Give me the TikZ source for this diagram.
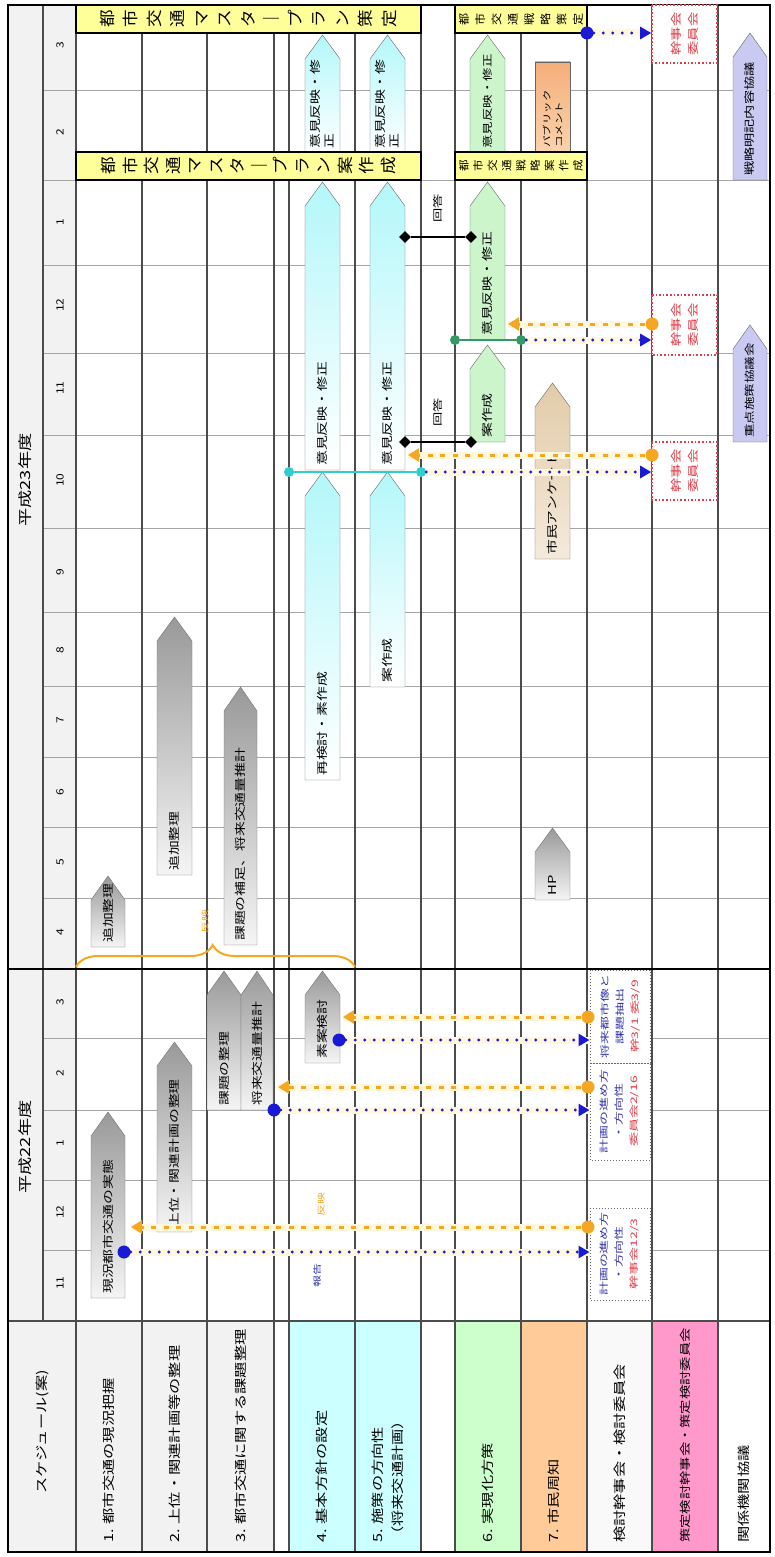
\documentclass[tikz,border=0pt]{standalone}
\usepackage{fontspec}
\setmainfont{Noto Sans CJK JP}
\usetikzlibrary{arrows.meta, decorations.pathreplacing, shapes.geometric}
\definecolor{rowgray}{HTML}{F2F2F2}
\definecolor{rowcyan}{HTML}{CCFFFF}
\definecolor{rowgreen}{HTML}{CCFFCC}
\definecolor{roworange}{HTML}{FFCC99}
\definecolor{rowpink}{HTML}{FF99CC}
\definecolor{taskcyan}{HTML}{B3F7FA}
\definecolor{taskgreen}{HTML}{CCF5CC}
\definecolor{tasktan}{HTML}{E2CBA8}
\definecolor{tasktanlight}{HTML}{F4EADC}
\definecolor{taskpurple}{HTML}{C9C9F2}
\definecolor{pubcomment}{HTML}{F4AE7A}
\definecolor{pubcommentlight}{HTML}{FAD3AE}
\definecolor{plan}{HTML}{FFFF99}
\definecolor{repblue}{HTML}{1A1AD6}
\definecolor{txtblue}{HTML}{3333AA}
\definecolor{txtred}{HTML}{E03C46}
\definecolor{feedback}{HTML}{F5A623}
\definecolor{halo}{HTML}{FFF8DE}
\definecolor{tealline}{HTML}{33CCCC}
\definecolor{greenline}{HTML}{339966}

% task bar with a pointed end (tip towards later months)
\newcommand{\taskarrow}[5]{%
  \path[#1] (#2,#5+24) -- ({(#2+#3)/2},#5) -- (#3,#5+24) -- (#3,#4) -- (#2,#4) -- cycle;}
\newcommand{\chouon}{｜}

\begin{document}
\begin{tikzpicture}[x=1pt, y=-1pt,
    rowline/.style={draw=black!70, line width=1.2pt},
    monthline/.style={draw=black!35, line width=0.6pt},
    yearline/.style={draw=black, line width=1.6pt},
    rowlabel/.style={rotate=90, anchor=west, inner sep=0pt, xscale=1.3, font=\fontsize{12.5}{20}\selectfont, align=left},
    month/.style={rotate=90, xscale=1.2, font=\fontsize{10}{12}\selectfont},
    year/.style={rotate=90, xscale=1.3, font=\fontsize{14}{16}\selectfont},
    tasktext/.style={rotate=90, anchor=west, inner sep=0pt, xscale=1.35, font=\fontsize{11}{14}\selectfont, align=left},
    gtask/.style={draw=black!55, top color=black!40, bottom color=black!4},
    ctask/.style={draw=black!60, top color=taskcyan, bottom color=white},
    etask/.style={draw=black!60, fill=taskgreen},
    ttask/.style={draw=black!60, top color=tasktan, bottom color=tasktanlight},
    ptask/.style={draw=black!60, fill=taskpurple},
    planbox/.style={draw=black, line width=1.5pt, fill=plan},
    vtext/.style={rotate=90, xscale=1.1, align=center, inner sep=0pt},
    meetbox/.style={rotate=90, draw=black!60, dotted, line width=1pt, fill=white, inner sep=0pt},
    redbox/.style={rotate=90, draw=txtred, dotted, line width=1.6pt, fill=white, inner sep=0pt},
    meettext/.style={rotate=90, xscale=1.55, align=center, font=\fontsize{9}{15}\selectfont},
    redtext/.style={rotate=90, xscale=1.3, align=center, text=txtred, font=\fontsize{11}{17}\selectfont},
    note/.style={rotate=90, xscale=1.5, font=\fontsize{8}{10}\selectfont},
    haloline/.style={draw=halo, line width=7pt},
    report/.style={draw=repblue, line width=3.2pt, line cap=round, dash pattern=on 0pt off 9.5pt, -{Triangle[length=11pt, width=12pt]}},
    reflect/.style={draw=feedback, line width=3pt, dash pattern=on 5pt off 7.5pt, -{Triangle[length=11pt, width=13pt]}},
    bdot/.style={circle, fill=repblue, inner sep=0pt, minimum size=13pt},
    odot/.style={circle, fill=feedback, inner sep=0pt, minimum size=13pt},
    tdot/.style={circle, fill=tealline, inner sep=0pt, minimum size=10pt},
    edot/.style={circle, fill=greenline, inner sep=0pt, minimum size=10pt},
    kdia/.style={diamond, fill=black, inner sep=0pt, minimum size=12pt}
]
  \useasboundingbox (0,0) rectangle (775,1557);

  % Farbflaechen der Zeilenkoepfe
  \fill[rowgray] (8,5) rectangle (76,1552);
  \fill[rowgray] (76,1321) rectangle (274,1552);
  \fill[rowcyan] (289,1321) rectangle (421,1552);
  \fill[rowgreen] (455,1321) rectangle (521,1552);
  \fill[roworange] (521,1321) rectangle (587,1552);
  \fill[rowgray!50] (587,1321) rectangle (652,1552);
  \fill[rowpink] (652,1321) rectangle (718,1552);

  % Raster: Monate und Zeilen
  \foreach \y in {1250,1180,1110,1038,898,827,757,686,612,528,435,353,265,180,90}
    \draw[monthline] (43,\y) -- (770,\y);
  \foreach \x in {76,142,207,274,289,355,421,455,521,587,652,718}
    \draw[rowline] (\x,5) -- (\x,1552);
  \draw[rowline] (43,5) -- (43,1321);
  \draw[rowline, line width=1.5pt] (8,1321) -- (770,1321);
  \draw[yearline] (8,969) -- (770,969);
  \draw[black, line width=1.5pt] (8,5) rectangle (770,1552);

  % Kopfzeile
  \node[year] (fy22) at (25,1147) {平成22年度};
  \node[year] (fy23) at (25,480) {平成23年度};
  \foreach \m/\y in {11/1283,12/1212,1/1143,2/1073,3/1002,4/932,5/862,6/792,7/720,8/650,9/572,10/480,11/388,12/305,1/222,2/132,3/45}
    \node[month] (m\y) at (60,\y) {\m};

  % Zeilenbeschriftungen
  \node[rowlabel, anchor=center] (l0) at (42,1432) {スケジュール(案)};
  \node[rowlabel] (l1) at (109,1543) {1. 都市交通の現況把握};
  \node[rowlabel] (l2) at (174.5,1543) {2. 上位・関連計画等の整理};
  \node[rowlabel] (l3) at (240.5,1543) {3. 都市交通に関する課題整理};
  \node[rowlabel] (l4) at (322,1543) {4. 基本方針の設定};
  \node[rowlabel] (l5) at (388,1543) {5. 施策の方向性\\（将来交通計画）};
  \node[rowlabel] (l6) at (488,1543) {6. 実現化方策};
  \node[rowlabel] (l7) at (554,1543) {7. 市民周知};
  \node[rowlabel] (l8) at (619.5,1543) {検討幹事会・検討委員会};
  \node[rowlabel, font=\fontsize{11}{14}\selectfont] (l9) at (685,1543) {策定検討幹事会・策定検討委員会};
  \node[rowlabel] (l10) at (744,1543) {関係機関協議};

  % Klammer "反映"
  \draw[feedback, line width=2pt, decorate, decoration={brace, amplitude=22pt, aspect=0.49}] (76,967) -- (355,967);
  \node[note, text=feedback] (n3) at (205,921) {反映};

  % 1. 現況把握
  \taskarrow{gtask}{91}{125}{1298}{1112}
  \node[tasktext] (t11) at (108,1294) {現況都市交通の実態};
  \taskarrow{gtask}{91}{125}{947}{876}
  \node[tasktext] (t12) at (108,943) {追加整理};

  % 2. 上位・関連計画
  \taskarrow{gtask}{157}{192}{1232}{1042}
  \node[tasktext] (t21) at (174.5,1228) {上位・関連計画の整理};
  \taskarrow{gtask}{157}{192}{875}{617}
  \node[tasktext] (t22) at (174.5,871) {追加整理};

  % 3. 課題整理
  \taskarrow{gtask}{207}{241}{1110}{971}
  \node[tasktext] (t31) at (224,1106) {課題の整理};
  \taskarrow{gtask}{241}{273}{1110}{971}
  \node[tasktext] (t32) at (257,1106) {将来交通量推計};
  \taskarrow{gtask}{224}{257}{945}{687}
  \node[tasktext] (t33) at (240.5,941) {課題の補足、将来交通量推計};

  % 4. 基本方針
  \taskarrow{gtask}{305}{340}{1063}{971}
  \node[tasktext] (t41) at (322.5,1059) {素案検討};
  \taskarrow{ctask}{305}{340}{780}{472}
  \node[tasktext] (t42) at (322.5,776) {再検討・素作成};
  \taskarrow{ctask}{305}{340}{470}{182}
  \node[tasktext] (t43) at (322.5,466) {意見反映・修正};
  \taskarrow{ctask}{305}{340}{153}{35}
  \node[tasktext] (t44) at (322.5,149) {意見反映・修\\正};

  % 5. 施策の方向性
  \taskarrow{ctask}{370}{405}{687}{472}
  \node[tasktext] (t51) at (387.5,683) {案作成};
  \taskarrow{ctask}{370}{405}{470}{182}
  \node[tasktext] (t52) at (387.5,466) {意見反映・修正};
  \taskarrow{ctask}{370}{405}{153}{35}
  \node[tasktext] (t53) at (387.5,149) {意見反映・修\\正};

  % 6. 実現化方策
  \taskarrow{etask}{470}{505}{442}{345}
  \node[tasktext] (t61) at (487.5,438) {案作成};
  \taskarrow{etask}{470}{505}{340}{182}
  \node[tasktext] (t62) at (487.5,336) {意見反映・修正};
  \taskarrow{etask}{470}{505}{153}{35}
  \node[tasktext, font=\fontsize{10}{12}\selectfont] (t63) at (487.5,149) {意見反映・修正};

  % 7. 市民周知
  \taskarrow{gtask}{535}{570}{900}{828}
  \node[tasktext] (t71) at (552.5,896) {HP};
  \taskarrow{ttask}{535}{570}{559}{383}
  \node[tasktext] (t72) at (552.5,555) {市民アンケート};
  \path[draw=black!60, top color=pubcomment, bottom color=pubcommentlight] (535,62) rectangle (570,152);
  \node[tasktext, font=\fontsize{8.5}{12}\selectfont] (t73) at (552.5,148) {パブリック\\コメント};

  % 関係機関協議
  \taskarrow{ptask}{733}{767}{442}{325}
  \node[tasktext, font=\fontsize{10}{12}\selectfont] (t101) at (750,438) {重点施策協議会};
  \taskarrow{ptask}{733}{767}{180}{33}
  \node[tasktext, font=\fontsize{10.5}{12}\selectfont] (t102) at (750,176) {戦略明記内容協議};

  % Meilensteine (gelb)
  \draw[planbox] (76,152) rectangle (421,180);
  \node[vtext, font=\fontsize{16}{21.5}\selectfont] (mpdraft) at (248.5,166) {都\\市\\交\\通\\マ\\ス\\タ\\\chouon\\プ\\ラ\\ン\\案\\作\\成};
  \draw[planbox] (76,5) rectangle (421,33);
  \node[vtext, font=\fontsize{16}{23.5}\selectfont] (mpfinal) at (248.5,19) {都\\市\\交\\通\\マ\\ス\\タ\\\chouon\\プ\\ラ\\ン\\策\\定};
  \draw[planbox] (455,152) rectangle (587,180);
  \node[vtext, font=\fontsize{10.5}{14.25}\selectfont] (stdraft) at (521,166) {都\\市\\交\\通\\戦\\略\\案\\作\\成};
  \draw[planbox] (455,5) rectangle (587,33);
  \node[vtext, font=\fontsize{11}{16.3}\selectfont] (stfinal) at (521,19) {都\\市\\交\\通\\戦\\略\\策\\定};

  % 検討幹事会・検討委員会
  \node[meetbox, minimum width=92pt, minimum height=60pt] (c1) at (620,1254) {};
  \node[meettext] (c1t) at (c1) {\textcolor{txtblue}{計画の進め方}\\\textcolor{txtblue}{・方向性}\\\textcolor{txtred}{幹事会12/3}};
  \node[meetbox, minimum width=97pt, minimum height=60pt] (c2) at (620,1111.5) {};
  \node[meettext] (c2t) at (c2) {\textcolor{txtblue}{計画の進め方}\\\textcolor{txtblue}{・方向性}\\\textcolor{txtred}{委員会2/16}};
  \node[meetbox, minimum width=93pt, minimum height=60pt] (c3) at (620,1016.5) {};
  \node[meettext] (c3t) at (c3) {\textcolor{txtblue}{将来都市像と}\\\textcolor{txtblue}{課題抽出}\\\textcolor{txtred}{幹3/1\ 委3/9}};

  % 策定検討幹事会・委員会
  \node[redbox, minimum width=58pt, minimum height=65pt] (r1) at (684.5,471) {};
  \node[redtext] (r1t) at (r1) {幹事会\\委員会};
  \node[redbox, minimum width=60pt, minimum height=65pt] (r2) at (684.5,325) {};
  \node[redtext] (r2t) at (r2) {幹事会\\委員会};
  \node[redbox, minimum width=58pt, minimum height=65pt] (r3) at (684.5,34) {};
  \node[redtext] (r3t) at (r3) {幹事会\\委員会};

  % Bindeglieder
  \node[tdot] (q1) at (289,472) {};
  \node[tdot] (q2) at (421,472) {};
  \draw[tealline, line width=2.5pt] (q1) -- (q2);
  \node[edot] (e1) at (455,340) {};
  \node[edot] (e2) at (521,340) {};
  \draw[greenline, line width=2.5pt] (e1) -- (e2);
  \node[kdia] (k1) at (405,442) {};
  \node[kdia] (k2) at (471,442) {};
  \draw[line width=2.5pt] (k1) -- (k2);
  \node[kdia] (k3) at (405,237) {};
  \node[kdia] (k4) at (471,237) {};
  \draw[line width=2.5pt] (k3) -- (k4);

  % 報告 (blau) und 反映 (orange)
  \node[bdot] (b1) at (124,1252) {};
  \node[bdot] (b2) at (274,1110) {};
  \node[bdot] (b3) at (339,1040) {};
  \node[bdot] (b6) at (587,33) {};
  \node[odot] (o1) at (588,1227) {};
  \node[odot] (o2) at (588,1087) {};
  \node[odot] (o3) at (588,1017) {};
  \node[odot] (o4) at (652,455) {};
  \node[odot] (o5) at (652,324) {};
  \coordinate (h1) at (131,1227);
  \coordinate (h2) at (278,1087);
  \coordinate (h3) at (343,1017);
  \coordinate (h4) at (408,455);
  \coordinate (h5) at (508,324);

  \foreach \s/\t in {b1/c1, b2/c2, b3/c3, q2/r1, e2/r2, b6/r3} {
    \draw[haloline] (\s) -- (\s -| \t.north);
    \draw[report] (\s) -- (\s -| \t.north);
  }
  \foreach \s/\t in {o1/h1, o2/h2, o3/h3, o4/h4, o5/h5} {
    \draw[haloline] (\s) -- (\t);
    \draw[reflect] (\s) -- (\t);
  }

  % kleine Hinweise
  \node[note, text=txtblue] (n1) at (317,1275) {報告};
  \node[note, text=feedback] (n2) at (321,1204) {反映};
  \node[note, font=\fontsize{9.5}{11}\selectfont] (n4) at (438,412) {回答};
  \node[note, font=\fontsize{9.5}{11}\selectfont] (n5) at (438,208) {回答};

\end{tikzpicture}
\end{document}
